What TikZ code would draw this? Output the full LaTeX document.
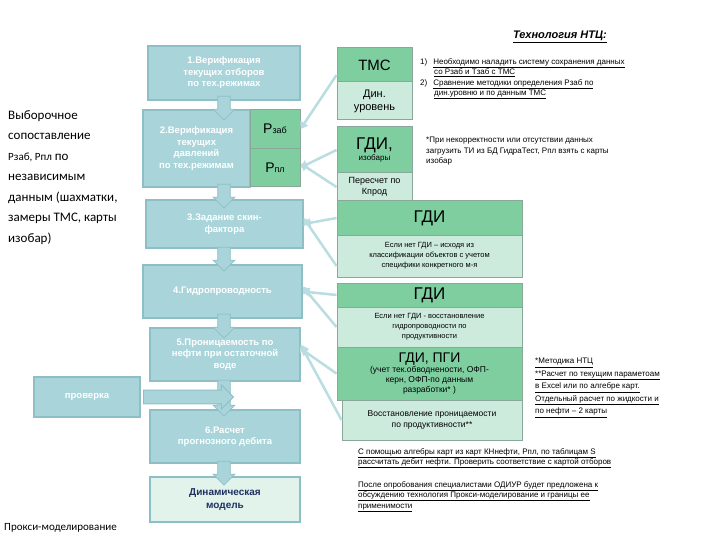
\documentclass[tikz,border=0pt]{standalone}
\usepackage{fontspec}
\setmainfont{Liberation Sans}
\newfontfamily\calib{Carlito}
\usetikzlibrary{shapes.arrows,arrows.meta}
\definecolor{lb}{HTML}{A8D4DA}
\definecolor{lbb}{HTML}{8FBFC6}
\definecolor{gr}{HTML}{7FCEA0}
\definecolor{lg}{HTML}{CDEBDD}
\definecolor{grb}{HTML}{8AA89A}
\definecolor{navy}{HTML}{1F2F5F}
\tikzset{
 stp/.style={draw=lbb,line width=1.2pt,fill=lb,text=white,font=\bfseries\fontsize{9.5}{11.5}\selectfont,align=center,inner sep=1pt},
 gbox/.style={draw=grb,line width=1pt,fill=gr,align=center,inner sep=1pt},
 lbox/.style={draw=grb,line width=1pt,fill=lg,align=center,inner sep=1pt},
 dn/.style={single arrow,draw=lbb,line width=0.8pt,fill=lb,rotate=270,minimum height=24pt,single arrow head extend=4pt,single arrow head indent=0pt,minimum width=22pt,inner sep=5pt},
 conn/.style={draw=lb!80!white,line width=2.5pt,-{Triangle[length=7pt,width=9pt]}},
 note/.style={font=\fontsize{8}{10.5}\selectfont,align=left,anchor=north west,inner sep=0pt}
}
\begin{document}
\begin{tikzpicture}[x=1pt,y=-1pt]
\useasboundingbox (0,0) rectangle (720,540);
% left steps
\node[stp,minimum width=152pt,minimum height=54pt] (b1) at (224,73) {1.Верификация\\текущих отборов\\по тех.режимах};
\node[stp,minimum width=107pt,minimum height=77pt] (b2) at (196.5,148.5) {2.Верификация\\текущих\\давлений\\по тех.режимам};
\node[gbox,minimum width=50pt,minimum height=38.5pt,font=\fontsize{14}{14}\selectfont] (rz) at (275,129) {P\fontsize{9}{9}\selectfont заб};
\node[gbox,minimum width=50pt,minimum height=38.5pt,font=\fontsize{14}{14}\selectfont] (rp) at (275,167.5) {P\fontsize{9}{9}\selectfont пл};
\node[stp,minimum width=157pt,minimum height=48pt] (b3) at (224.5,224) {3.Задание скин-\\фактора};
\node[stp,minimum width=159pt,minimum height=53pt] (b4) at (222.5,291.5) {4.Гидропроводность};
\node[stp,minimum width=150pt,minimum height=53pt] (b5) at (225,354.5) {5.Проницаемость по\\нефти при остаточной\\воде};
\node[stp,minimum width=106pt,minimum height=40pt] (pr) at (87,397) {проверка};
\node[stp,minimum width=150pt,minimum height=53pt] (b6) at (225,436.5) {6.Расчет\\прогнозного дебита};
\node[stp,fill=lg!60!white,text=navy,minimum width=150pt,minimum height=45pt,font=\bfseries\fontsize{10}{13}\selectfont] (dm) at (225,499.5) {Динамическая\\модель};
% down arrows
\node[dn] (a1) at (224,105) {};
\node[dn] (a2) at (224,193) {};
\node[dn] (a3) at (224,256) {};
\node[dn] (a4) at (224,323) {};
\node[dn,minimum height=36pt] (a5) at (224,395) {};
\node[dn] (a6) at (224,470) {};
\node[single arrow,draw=lbb,line width=0.8pt,fill=lb,minimum height=90pt,minimum width=24pt,single arrow head extend=4pt,inner sep=5pt] (ap) at (185,397) {};
% left text
\node[anchor=north west,align=left,inner sep=0pt,font=\calib\fontsize{13}{20.5}\selectfont] (lt) at (8,110) {Выборочное\\сопоставление\\{\fontsize{11}{11}\selectfont Рзаб, Рпл} по\\независимым\\данным (шахматки,\\замеры ТМС, карты\\изобар)};
\node[anchor=south west,inner sep=0pt,font=\calib\fontsize{11}{12}\selectfont] (px) at (4,533) {Прокси-моделирование};
% right boxes
\node[gbox,minimum width=75pt,minimum height=34pt,font=\fontsize{15}{15}\selectfont] (tms) at (374.5,65) {ТМС};
\node[lbox,minimum width=75pt,minimum height=38pt,font=\fontsize{11}{13}\selectfont] (dyn) at (374.5,101) {Дин.\\уровень};
\node[gbox,minimum width=75pt,minimum height=46pt] (gi) at (374.5,150) {{\fontsize{17}{17}\selectfont ГДИ,}\\[-1pt]{\fontsize{8}{9}\selectfont изобары}};
\node[lbox,minimum width=75pt,minimum height=28pt,font=\fontsize{9}{11}\selectfont] (pk) at (374.5,187) {Пересчет по\\Кпрод};
\node[gbox,minimum width=185pt,minimum height=35pt,font=\fontsize{17}{17}\selectfont] (g1) at (429.5,218) {ГДИ};
\node[lbox,minimum width=185pt,minimum height=42pt,font=\fontsize{7.5}{10}\selectfont] (t1) at (429.5,256) {Если нет ГДИ – исходя из\\классификации объектов с учетом\\специфики конкретного м-я};
\node[gbox,minimum width=185pt,minimum height=24pt,font=\fontsize{17}{17}\selectfont] (g2) at (429.5,295) {ГДИ};
\node[lbox,minimum width=185pt,minimum height=40pt,font=\fontsize{7.5}{10}\selectfont] (t2) at (429.5,327) {Если нет ГДИ - восстановление\\гидропроводности по\\продуктивности};
\node[gbox,minimum width=185pt,minimum height=53pt,font=\fontsize{8.5}{10}\selectfont] (g3) at (429.5,373.5) {{\fontsize{14}{14}\selectfont ГДИ, ПГИ}\\(учет тек.обводнености, ОФП-\\керн, ОФП-по данным\\разработки* )};
\node[lbox,minimum width=180pt,minimum height=40pt,font=\fontsize{8.5}{11}\selectfont] (t3) at (432,420) {Восстановление проницаемости\\по продуктивности**};
% connectors
\draw[conn] ([yshift=-10pt]tms.west) -- (rz.east);
\draw[conn] (gi.west) -- (rp.east);
\draw[conn] (pk.west) -- ([yshift=4pt]rp.east);
\draw[conn] (g1.west) -- (b3.east);
\draw[conn] ([yshift=-10pt]t1.west) -- ([yshift=6pt]b3.east);
\draw[conn] (g2.west) -- (b4.east);
\draw[conn] (t2.west) -- ([yshift=5pt]b4.east);
\draw[conn] (g3.west) -- ([yshift=6pt]b5.east);
\draw[conn] (t3.west) -- ([yshift=10pt]b5.east);
% notes
\node[anchor=north,inner sep=0pt,font=\bfseries\itshape\fontsize{11}{12}\selectfont] (hd) at (560,31) {\underline{Технология НТЦ:}};
\node[note] (n1) at (420,58) {1)\hspace{6pt}\underline{Необходимо наладить систему сохранения данных}\\\hspace{14pt}\underline{со Рзаб и Тзаб с ТМС}\\2)\hspace{6pt}\underline{Сравнение методики определения Рзаб по}\\\hspace{14pt}\underline{дин.уровню и по данным ТМС}};
\node[note] (n2) at (426,137) {*При некорректности или отсутствии данных\\загрузить ТИ из БД ГидраТест, Рпл взять с карты\\изобар};
\node[note,font=\fontsize{8}{12.5}\selectfont] (n3) at (535,358) {\underline{*Методика НТЦ}\\\underline{**Расчет по текущим параметоам}\\\underline{в Excel или по алгебре карт.}\\\underline{Отдельный расчет по жидкости и}\\\underline{по нефти – 2 карты}};
\node[note] (n4) at (358,448) {\underline{С помощью алгебры карт из карт КНнефти, Рпл, по таблицам S}\\\underline{рассчитать дебит нефти. Проверить соответствие с картой отборов}};
\node[note] (n5) at (358,481) {\underline{После опробования специалистами ОДИУР будет предложена к}\\\underline{обсуждению технология Прокси-моделирование и границы ее}\\\underline{применимости}};
\end{tikzpicture}
\end{document}
